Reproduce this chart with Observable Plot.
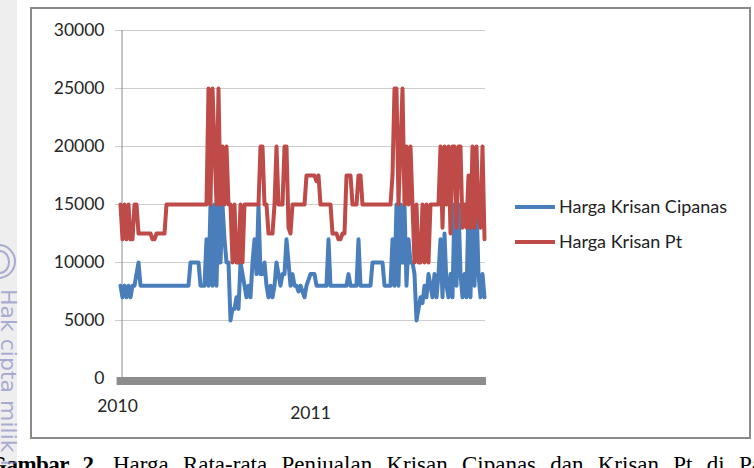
<!DOCTYPE html>
<html><head><meta charset="utf-8">
<script src="https://cdn.jsdelivr.net/npm/d3@7"></script>
<script src="https://cdn.jsdelivr.net/npm/@observablehq/plot@0.6"></script>
<style>
html,body{margin:0;padding:0;background:#fff;}
#wrap{position:relative;width:754px;height:468px;overflow:hidden;background:#fff;}
#box{position:absolute;left:30px;top:7px;width:717px;height:428px;border:2px solid #8a8a8a;}
#chart{position:absolute;left:0;top:0;}
.leg{position:absolute;left:515px;font:18px Lato,sans-serif;color:#222;white-space:nowrap;line-height:24px;}
.leg .sw{display:inline-block;width:40px;height:4px;vertical-align:middle;margin-right:4px;position:relative;top:-1px;}
#caption{position:absolute;left:-11px;top:453.5px;font:23px "Liberation Serif","Times New Roman",serif;line-height:22px;color:#000;white-space:nowrap;word-spacing:8.5px;}
#caption b{letter-spacing:-0.5px;}
#strip{position:absolute;left:0;top:0;width:17px;height:468px;background:rgba(0,0,0,0.065);}
#wm{position:absolute;left:2px;top:289px;transform-origin:0 0;transform:rotate(90deg) translate(0,-17px);font:22px "DejaVu Sans",sans-serif;line-height:22px;color:rgba(120,125,190,0.6);white-space:nowrap;}
#wmc{position:absolute;left:-19px;top:244px;width:31px;height:31px;border:2.5px solid rgba(120,125,190,0.6);border-radius:50%;}
#wmcc{position:absolute;left:-10px;top:250px;width:16px;height:20px;border:2.5px solid rgba(120,125,190,0.6);border-left-color:transparent;border-radius:50%;}
</style></head><body>
<div id="wrap">
  <div id="box"></div>
  <div id="chart"></div>
  <div id="caption"><b>Gambar 2.</b> Harga Rata-rata Penjualan Krisan Cipanas dan Krisan Pt di Pasar</div>
  <div id="strip"></div>
  <div id="wmc"></div>
  <div id="wmcc"></div>
  <div id="wm">Hak cipta milik IPB</div>
</div>
<script>
const seriesNames = ["Harga Krisan Cipanas", "Harga Krisan Pt"];
const seriesColors = ["#4a7ebb", "#be4b48"];

const hargaCipanas = [
  8000,7000,8000,7000,8000,7000,8000,8000,9000,10000,
  8000,8000,8000,8000,8000,8000,8000,8000,8000,8000,
  8000,8000,8000,8000,8000,8000,8000,8000,8000,8000,
  8000,8000,8000,8000,8000,10000,10000,10000,10000,10000,
  8000,8000,8000,12000,8000,15000,8000,15000,8000,15000,
  10000,15000,12000,10000,10000,5000,6000,6000,7000,6000,
  10000,9000,8000,7000,8000,7000,10000,12000,9000,15000,
  9000,9000,10000,8000,7000,8000,7000,8000,10000,9000,
  8000,9000,9000,12000,10000,8000,9000,8000,8000,7500,
  8000,7500,7000,8000,8500,9000,9000,9000,8000,8000,
  8000,8000,8000,8000,12000,8000,8000,8000,8000,8000,
  8000,8000,8000,8000,9000,8000,8000,8000,8000,12000,
  8000,8000,8000,8000,8000,8000,10000,10000,10000,10000,
  10000,10000,8000,8000,8000,8000,12000,8000,15000,8000,
  15000,10000,15000,8000,12000,10000,10000,9000,5000,6000,
  7000,6500,8000,7000,9000,8000,7000,9000,7000,9000,
  12000,7000,12500,8000,7000,9000,7000,15000,8000,15000,
  9000,7000,9000,7000,15000,7000,15000,8000,15000,9000,
  7000,9000,7000
];

const hargaPt = [
  15000,12000,15000,12000,15000,12000,12000,15000,15000,12500,
  12500,12500,12500,12500,12500,12500,12000,12000,12500,12500,
  12500,12500,12500,15000,15000,15000,15000,15000,15000,15000,
  15000,15000,15000,15000,15000,15000,15000,15000,15000,15000,
  15000,15000,15000,15000,25000,15000,25000,20000,15000,25000,
  15000,20000,15000,20000,15000,15000,10000,15000,10000,10000,
  15000,10000,15000,15000,15000,15000,15000,15000,15000,15000,
  20000,20000,15000,15000,12500,12500,12500,15000,20000,15000,
  15000,15000,20000,20000,13000,12500,15000,15000,15000,15000,
  15000,15000,15000,17500,17500,17500,17500,17500,17000,17500,
  15000,15000,15000,15000,15000,15000,12500,12500,12500,12000,
  12000,12500,12500,17500,17500,17500,15000,15000,15000,17500,
  17500,15000,15000,15000,15000,15000,15000,15000,15000,15000,
  15000,15000,15000,15000,15000,15000,17500,25000,25000,15000,
  20000,25000,15000,20000,15000,20000,15000,10000,15000,10000,
  10000,15000,10000,15000,10000,15000,15000,15000,15000,15000,
  20000,13000,20000,15000,20000,12500,20000,20000,13000,20000,
  20000,13000,15000,13000,17500,13000,20000,13000,20000,14000,
  13000,20000,12000
];

const yTicks = [0, 5000, 10000, 15000, 20000, 25000, 30000];
const xTickLabels = ["2010", "2011"];

const N = hargaCipanas.length;
const cip = hargaCipanas.map((v, i) => ({i, v}));
const pt = hargaPt.map((v, i) => ({i, v}));

const chart = Plot.plot({
  width: 754,
  height: 468,
  marginLeft: 120,
  marginRight: 270,
  marginTop: 30,
  marginBottom: 90,
  style: {background: "transparent", fontFamily: "Lato, sans-serif", overflow: "visible"},
  x: {domain: [0, N - 1], axis: null},
  y: {domain: [0, 30000], axis: null},
  marks: [
    Plot.ruleY(yTicks.filter(d => d > 0), {y: d => d, x1: -2.5, x2: N - 0.5, stroke: "#cdcdcd", strokeWidth: 1}),
    Plot.ruleX([0.75], {x: d => d, y1: 0, y2: 30000, stroke: "#8a8a8a", strokeWidth: 1}),
    Plot.ruleY([0], {y: d => d, x1: -1.7, x2: N, stroke: "#8c8c8c", strokeWidth: 8, dy: 2.5}),
    Plot.text(yTicks, {y: d => d, x: 0, frameAnchor: "left", dx: -16, textAnchor: "end", text: d => String(d), fontSize: 17.5, fill: "#262626"}),
    Plot.text(xTickLabels, {x: (d, i) => [-1.5, 95][i], y: 0, text: d => d, fontSize: 17.5, fill: "#262626", lineAnchor: "middle"}),
    Plot.line(cip, {x: "i", y: "v", stroke: seriesColors[0], strokeWidth: 4}),
    Plot.line(pt, {x: "i", y: "v", stroke: seriesColors[1], strokeWidth: 4})
  ]
});
// shift x tick labels down below the axis band
chart.querySelectorAll("g[aria-label='text']").forEach((g, k) => {
  if (k === 1) {
    const ts = g.querySelectorAll("text");
    if (ts[0]) ts[0].setAttribute("transform", ts[0].getAttribute("transform") + " translate(0,27.5)");
    if (ts[1]) ts[1].setAttribute("transform", ts[1].getAttribute("transform") + " translate(0,35)");
  }
});
document.getElementById("chart").appendChild(chart);

const wrap = document.getElementById("wrap");
const legY = [206, 241];
seriesNames.forEach((name, k) => {
  const d = document.createElement("div");
  d.className = "leg";
  d.style.top = (legY[k] - 12) + "px";
  d.innerHTML = `<span class="sw" style="background:${seriesColors[k]}"></span>${name}`;
  wrap.appendChild(d);
});
</script>
</body></html>
